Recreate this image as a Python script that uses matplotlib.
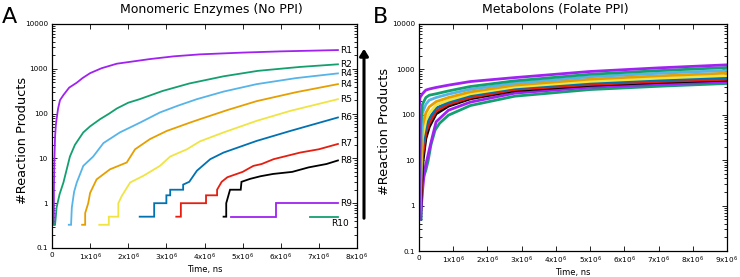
import matplotlib
matplotlib.use("Agg")
import matplotlib.pyplot as plt
from matplotlib.ticker import LogLocator, NullFormatter

# ---------------- Panel A data (x in units of 1e6 ns) ----------------
a_r1_x = [0.05, 0.05, 0.06, 0.08, 0.1, 0.12, 0.16, 0.21, 0.3, 0.45, 0.65, 0.8, 1.0, 1.3, 1.7, 2.1, 2.57, 3.2, 3.88, 5.0, 6.0, 7.0, 7.5]
a_r1_y = [0.33, 2, 8, 30, 55, 75, 130, 200, 260, 380, 490, 620, 800, 1030, 1300, 1450, 1650, 1900, 2100, 2300, 2450, 2560, 2620]

a_r2_x = [0.06, 0.08, 0.1, 0.12, 0.2, 0.3, 0.47, 0.6, 0.82, 1.0, 1.26, 1.5, 1.7, 2.0, 2.3, 2.9, 3.6, 4.5, 5.4, 6.5, 7.5]
a_r2_y = [0.33, 0.33, 0.5, 0.8, 1.6, 2.9, 11, 20, 38, 52, 75, 100, 130, 175, 210, 320, 470, 680, 900, 1100, 1260]

a_r3_x = [0.44, 0.5, 0.52, 0.58, 0.65, 0.82, 1.08, 1.35, 1.78, 2.31, 2.83, 3.3, 3.8, 4.5, 5.37, 6.4, 7.5]
a_r3_y = [0.33, 0.33, 0.8, 1.8, 2.9, 6.8, 11, 22, 38, 63, 106, 150, 210, 310, 455, 620, 790]

a_r4_x = [0.79, 0.87, 0.87, 0.95, 1.0, 1.17, 1.52, 1.96, 2.18, 2.57, 3.01, 3.62, 3.88, 4.6, 5.37, 6.4, 7.5]
a_r4_y = [0.33, 0.33, 0.6, 1, 1.7, 3.4, 5.7, 8.1, 16, 27, 41, 63, 75, 120, 190, 300, 455]

a_r5_x = [1.24, 1.49, 1.49, 1.74, 1.74, 1.83, 2.05, 2.4, 2.83, 3.1, 3.54, 3.88, 4.5, 5.37, 6.25, 7.5]
a_r5_y = [0.33, 0.33, 0.5, 0.5, 1, 1.45, 2.9, 4.1, 6.8, 11, 16, 24, 38, 69, 115, 210]

a_r6_x = [2.3, 2.68, 2.68, 3.0, 3.0, 3.1, 3.1, 3.44, 3.44, 3.6, 3.8, 4.15, 4.5, 5.37, 6.25, 7.5]
a_r6_y = [0.5, 0.5, 1, 1, 1.5, 1.5, 2, 2, 2.6, 3, 5.3, 9.6, 13.5, 24.6, 41, 82]

a_r7_x = [3.26, 3.38, 3.38, 4.04, 4.04, 4.33, 4.33, 4.45, 4.6, 5.0, 5.28, 5.5, 5.81, 6.51, 7.0, 7.5]
a_r7_y = [0.5, 0.5, 1, 1, 1.5, 1.5, 2, 3, 3.8, 5, 6.8, 7.5, 9.6, 13.5, 16, 21]

a_r8_x = [4.5, 4.57, 4.57, 4.67, 4.95, 4.97, 5.2, 5.47, 5.8, 6.3, 6.73, 7.2, 7.5]
a_r8_y = [0.5, 0.5, 1, 2, 2, 3, 3.5, 4, 4.5, 5, 6.3, 7.5, 9]

a_r9_x = [4.69, 5.88, 5.88, 7.5]
a_r9_y = [0.5, 0.5, 1, 1]

a_r10_x = [6.76, 7.5]
a_r10_y = [0.5, 0.5]

a_labels = ["R1", "R2", "R4", "R4", "R5", "R6", "R7", "R8", "R9", "R10"]

# ---------------- Panel B data (x in units of 1e6 ns) ----------------
b_x1 = [0.01, 0.01, 0.03, 0.1, 0.2, 0.3, 0.5, 0.86, 1.5, 2.8, 5, 7, 9]
b_y1 = [0.5, 150, 240, 290, 350, 370, 400, 450, 540, 660, 900, 1080, 1260]
b_x2 = [0.02, 0.03, 0.05, 0.1, 0.2, 0.3, 0.5, 0.86, 1.5, 2.8, 5, 7, 9]
b_y2 = [0.5, 10, 60, 170, 240, 270, 290, 335, 420, 560, 780, 940, 1100]
b_x3 = [0.02, 0.04, 0.06, 0.1, 0.2, 0.3, 0.5, 0.86, 1.5, 2.8, 5, 7, 9]
b_y3 = [0.5, 8, 30, 110, 170, 210, 240, 285, 365, 500, 690, 820, 950]
b_x4 = [0.02, 0.04, 0.06, 0.1, 0.2, 0.3, 0.5, 0.86, 1.5, 2.8, 5, 7, 9]
b_y4 = [0.5, 3, 10, 55, 110, 150, 195, 240, 320, 450, 610, 720, 830]
b_x5 = [0.02, 0.03, 0.06, 0.1, 0.2, 0.3, 0.5, 0.86, 1.5, 2.8, 5, 7, 9]
b_y5 = [0.5, 2, 6, 30, 75, 108, 165, 210, 290, 410, 545, 640, 730]
b_x6 = [0.03, 0.04, 0.06, 0.1, 0.2, 0.3, 0.5, 0.86, 1.5, 2.8, 5, 7, 9]
b_y6 = [0.5, 1.5, 4, 20, 55, 84, 140, 190, 265, 390, 505, 585, 660]
b_x7 = [0.03, 0.05, 0.07, 0.1, 0.2, 0.3, 0.5, 0.86, 1.5, 2.8, 5, 7, 9]
b_y7 = [0.5, 1.5, 3, 12, 40, 65, 120, 170, 240, 360, 465, 540, 605]
b_x8 = [0.04, 0.06, 0.08, 0.12, 0.2, 0.3, 0.5, 0.86, 1.5, 2.8, 5, 7, 9]
b_y8 = [0.5, 1.5, 3, 10, 30, 54, 105, 155, 225, 340, 445, 515, 580]
b_x9 = [0.05, 0.07, 0.1, 0.15, 0.2, 0.3, 0.4, 0.5, 0.86, 1.5, 2.8, 5, 7, 9]
b_y9 = [0.5, 1, 2, 5, 8, 17, 35, 70, 126, 190, 300, 405, 470, 535]
b_x10 = [0.06, 0.08, 0.1, 0.2, 0.27, 0.35, 0.47, 0.6, 0.86, 1.5, 2.8, 5, 7, 9]
b_y10 = [0.5, 1.5, 3.6, 6, 10, 22, 46, 65, 98, 160, 257, 360, 425, 490]

colors = ["#9f22f0", "#13a06e", "#56b4e9", "#e69f00", "#f0e442",
          "#0072b2", "#e51e10", "#000000", "#9f22f0", "#13a06e"]

ytick_vals = [0.1, 1, 10, 100, 1000, 10000]
ytick_labels = ["0.1", "1", "10", "100", "1000", "10000"]

fig = plt.figure(figsize=(7.4, 2.77), dpi=100)
axA = fig.add_axes([52/740, 1-248/277, 305/740, 224/277])
axB = fig.add_axes([419/740, 1-251/277, 308/740, 227/277])

a_series = [(a_r1_x, a_r1_y), (a_r2_x, a_r2_y), (a_r3_x, a_r3_y), (a_r4_x, a_r4_y),
            (a_r5_x, a_r5_y), (a_r6_x, a_r6_y), (a_r7_x, a_r7_y), (a_r8_x, a_r8_y),
            (a_r9_x, a_r9_y), (a_r10_x, a_r10_y)]
for (xs, ys), c, lab in zip(a_series, colors, a_labels):
    axA.plot([v*1e6 for v in xs], ys, color=c, lw=1.3, solid_joinstyle='miter')
    if lab == "R10":
        axA.text(7.32e6, 0.36, lab, fontsize=6.5, ha='left', va='center')
    else:
        axA.text(7.56e6, ys[-1], lab, fontsize=6.5, ha='left', va='center')

b_series = [(b_x1, b_y1), (b_x2, b_y2), (b_x3, b_y3), (b_x4, b_y4), (b_x5, b_y5),
            (b_x6, b_y6), (b_x7, b_y7), (b_x8, b_y8), (b_x9, b_y9), (b_x10, b_y10)]
for (xs, ys), c in reversed(list(zip(b_series, colors))):
    axB.plot([v*1e6 for v in xs], ys, color=c, lw=2.0)

for ax, xmax in ((axA, 8), (axB, 9)):
    ax.set_yscale('log')
    ax.set_ylim(0.1, 10000)
    ax.set_xlim(0, xmax*1e6)
    ax.set_yticks(ytick_vals)
    ax.set_yticklabels(ytick_labels)
    ax.yaxis.set_minor_locator(LogLocator(base=10, subs=range(2, 10), numticks=20))
    ax.yaxis.set_minor_formatter(NullFormatter())
    xt = [i*1e6 for i in range(xmax+1)]
    ax.set_xticks(xt)
    ax.set_xticklabels(["0"] + [r"%dx10$^{6}$" % i for i in range(1, xmax+1)])
    ax.tick_params(which='both', direction='in', top=True, right=True, labelsize=5.2, pad=3, width=0.6)
    ax.tick_params(which='major', length=3.5)
    ax.tick_params(which='minor', length=2)
    for s in ax.spines.values():
        s.set_linewidth(0.9)
    ax.set_xlabel("Time, ns", fontsize=6, labelpad=1)

fig.text(211/740, 1-9/277, "Monomeric Enzymes (No PPI)", fontsize=9, ha='center', va='center')
fig.text(555/740, 1-9/277, "Metabolons (Folate PPI)", fontsize=9, ha='center', va='center')
fig.text(2/740, 1-23/277, "A", fontsize=16, ha='left', va='baseline')
fig.text(373/740, 1-23/277, "B", fontsize=16, ha='left', va='baseline')
fig.text(23/740, 1-140/277, "#Reaction Products", fontsize=9.3, rotation=90, ha='center', va='center')
fig.text(385/740, 1-131/277, "#Reaction Products", fontsize=9.3, rotation=90, ha='center', va='center')

fig.add_artist(matplotlib.patches.FancyArrowPatch((364/740, 1-221/277), (364/740, 1-46/277),
               transform=fig.transFigure, arrowstyle='-|>,head_length=4,head_width=2.5',
               mutation_scale=1, color='black', lw=2.2))

fig.savefig("out.png", dpi=100)
